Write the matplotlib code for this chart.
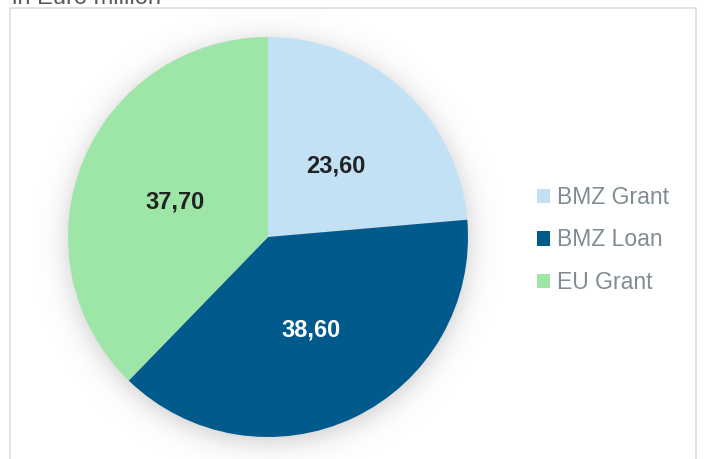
import numpy as np
from matplotlib import pyplot as plt

# Chart data
categories = ['BMZ Grant', 'BMZ Loan', 'EU Grant']
values = [23.60, 38.60, 37.70]
colors = ['#c2e1f5', '#005a8c', '#9ee6a8']
label_colors = ['#222222', '#ffffff', '#222222']

W, H = 705, 459
fig = plt.figure(figsize=(W / 100, H / 100), dpi=100)
plt.rcParams['font.family'] = ['Liberation Sans', 'DejaVu Sans']

# background axes in pixel coordinates (y down)
bg = fig.add_axes([0, 0, 1, 1])
bg.set_xlim(0, W)
bg.set_ylim(H, 0)
bg.axis('off')

# frame around the chart
bg.plot([10, 10, 696, 696], [H + 5, 8, 8, H + 5], color='#dddddd', lw=1.2)

# soft shadow around the pie
cx, cy, r = 268, 237, 200
yy, xx = np.mgrid[0:H, 0:W]
d = np.hypot(xx - cx, yy - (cy + 4))
alpha = 0.34 / (1 + np.exp((d - r) / 8))
shadow = np.zeros((H, W, 4))
shadow[..., :3] = 0.4
shadow[..., 3] = alpha
bg.imshow(shadow, extent=(0, W, H, 0), zorder=1)

bg.text(12, 4, 'in Euro million', fontsize=17, color='#595959',
        ha='left', va='baseline')

# pie
ax = fig.add_axes([(cx - r) / W, (H - cy - r) / H, 2 * r / W, 2 * r / H])

total = sum(values)
wedges, texts, autotexts = ax.pie(
    values, colors=colors, startangle=90, counterclock=False, radius=1,
    autopct=lambda p: f"{p * total / 100:.2f}".replace('.', ','),
    pctdistance=0.5, wedgeprops=dict(linewidth=0),
    textprops=dict(fontsize=17, fontweight='bold'))
for t, c in zip(autotexts, label_colors):
    t.set_color(c)
    t.set_va('center_baseline')
ax.set_xlim(-1, 1)
ax.set_ylim(-1, 1)
ax.axis('off')

fig.legend(wedges, categories, loc='center left',
           bbox_to_anchor=(516 / W, (H - 240) / H), frameon=False,
           fontsize=16.5, labelcolor='#7f8c93', handlelength=0.6,
           handleheight=0.6, handletextpad=0.3, labelspacing=0.85)

fig.savefig('out.png', dpi=100)
